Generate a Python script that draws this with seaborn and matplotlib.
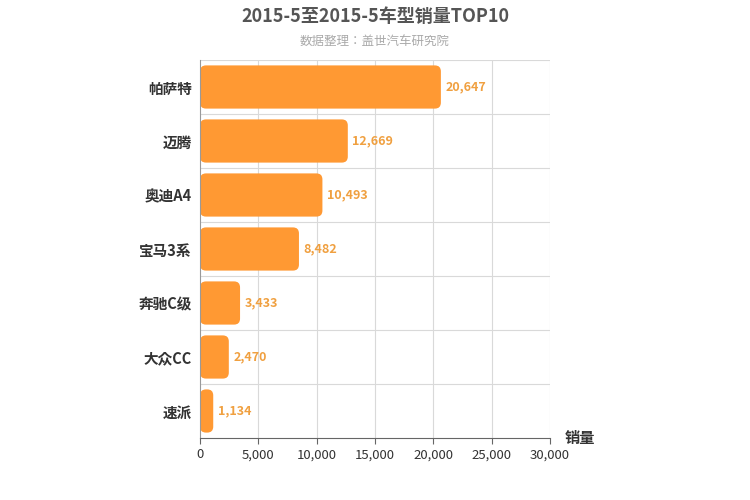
import matplotlib
matplotlib.use("Agg")
import matplotlib.pyplot as plt
import seaborn as sns
import pandas as pd
from matplotlib.patches import FancyBboxPatch

plt.rcParams["font.family"] = ["Noto Sans CJK SC", "Noto Sans CJK JP", "DejaVu Sans"]
plt.rcParams["font.sans-serif"] = ["Noto Sans CJK SC", "Noto Sans CJK JP", "DejaVu Sans"]

models = ["帕萨特", "迈腾", "奥迪A4", "宝马3系", "奔驰C级", "大众CC", "速派"]
sales = [20647, 12669, 10493, 8482, 3433, 2470, 1134]
xticks = [0, 5000, 10000, 15000, 20000, 25000, 30000]

df = pd.DataFrame({"model": models, "sales": sales})
fig = plt.figure(figsize=(7.5, 5), dpi=100)
ax = fig.add_axes([200/750, 62/500, 350/750, 378/500])
sns.barplot(data=df, x="sales", y="model", color="#ff9933", width=0.8, ax=ax, saturation=1)

xr = 30000 / 350 * 6
yr = 7 / 378 * 6
for p in list(ax.patches):
    x, y, w, h = p.get_x(), p.get_y(), p.get_width(), p.get_height()
    p.remove()
    fb = FancyBboxPatch((x, y), w, h, boxstyle=f"round,pad=0,rounding_size={xr}",
                        mutation_aspect=yr / xr, fc="#ff9933", ec="none", zorder=2)
    ax.add_patch(fb)

ax.set_xlim(0, 30000)
ax.set_ylim(len(models) - 0.5, -0.5)
ax.set_xticks(xticks)
ax.set_xticklabels([f"{v:,}" for v in xticks], fontsize=9.5, color="#333333")
ax.set_yticks(range(len(models)))
ax.set_yticklabels(models, fontsize=10.5, fontweight="bold", color="#333333")
for v in xticks[1:]:
    ax.axvline(v, color="#d9d9d9", lw=0.8, zorder=0)
for i in range(-1, len(models) - 1):
    ax.axhline(i + 0.5, color="#d9d9d9", lw=0.8, zorder=0)
for i, v in enumerate(sales):
    ax.text(v + 400, i, f"{v:,}", va="center", ha="left", fontsize=9,
            color="#f0a040", fontweight="bold")
for s in ["top", "right"]:
    ax.spines[s].set_visible(False)
ax.spines["left"].set_color("#999999")
ax.spines["bottom"].set_color("#666666")
ax.tick_params(axis="y", length=0, pad=6)
ax.tick_params(axis="x", length=4, color="#666666")
ax.set_ylabel("")
ax.set_xlabel("")
fig.text(580/750, 1 - 438/500, "销量", fontsize=11, fontweight="bold", color="#333333", ha="center", va="center")
fig.text(0.5, 1 - 17/500, "2015-5至2015-5车型销量TOP10", fontsize=13, fontweight="bold", color="#555555", ha="center", va="center")
fig.text(0.5, 1 - 41/500, "数据整理：盖世汽车研究院", fontsize=9, color="#aaaaaa", ha="center", va="center")
fig.savefig("out.png", dpi=100)
